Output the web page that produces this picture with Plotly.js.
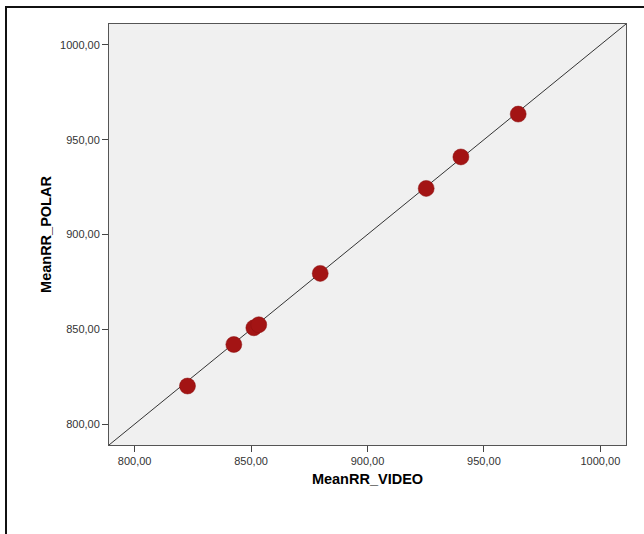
<!DOCTYPE html>
<html>
<head>
<meta charset="utf-8">
<script src="https://cdn.plot.ly/plotly-3.0.1.min.js"></script>
<style>
  html, body { margin: 0; padding: 0; background: #fff; }
  #wrap { position: relative; width: 644px; height: 534px; overflow: hidden; }
  #chart { width: 644px; height: 534px; }
  #frame { position: absolute; left: 5px; top: 6px; width: 700px; height: 600px;
           border-left: 2px solid #111; border-top: 2px solid #111; pointer-events: none; }
</style>
</head>
<body>
<div id="wrap">
  <div id="chart"></div>
  <div id="frame"></div>
</div>
<script>
// Data
const meanRR_VIDEO = [822.7, 842.6, 851.2, 853.3, 879.7, 925.2, 940.1, 964.7];
const meanRR_POLAR = [820.1, 842.0, 850.8, 852.4, 879.5, 924.3, 940.9, 963.5];
const identityLine = [789, 1011];
const tickVals = [800, 850, 900, 950, 1000];

const axisCommon = {
  range: [789, 1011],
  tickvals: tickVals,
  tickformat: '.2f',
  ticks: 'outside',
  ticklen: 6,
  tickwidth: 1,
  tickcolor: '#444',
  showline: true,
  linecolor: '#555',
  linewidth: 1,
  mirror: true,
  showgrid: false,
  zeroline: false,
  tickfont: { family: 'Liberation Sans, Arial, sans-serif', size: 11, color: '#333' }
};

const data = [
  {
    x: identityLine, y: identityLine, mode: 'lines', type: 'scatter',
    line: { color: '#333', width: 1 }, hoverinfo: 'skip', showlegend: false
  },
  {
    x: meanRR_VIDEO, y: meanRR_POLAR, mode: 'markers', type: 'scatter',
    marker: { size: 16, color: '#a31414', line: { color: '#8a1010', width: 0.5 } },
    showlegend: false
  }
];

const layout = {
  width: 644, height: 534,
  margin: { l: 109.3, r: 18.3, t: 24, b: 89 },
  paper_bgcolor: '#ffffff',
  plot_bgcolor: '#f0f0f0',
  separators: ',.',
  xaxis: Object.assign({}, axisCommon, {
    title: { text: 'MeanRR_VIDEO', standoff: 7,
      font: { family: 'Liberation Sans, Arial, sans-serif', size: 14.5, color: '#000', weight: 'bold' } }
  }),
  yaxis: Object.assign({}, axisCommon, {
    title: { text: 'MeanRR_POLAR', standoff: 4,
      font: { family: 'Liberation Sans, Arial, sans-serif', size: 14.5, color: '#000', weight: 'bold' } }
  })
};

Plotly.newPlot('chart', data, layout, { displayModeBar: false, staticPlot: true });
</script>
</body>
</html>
